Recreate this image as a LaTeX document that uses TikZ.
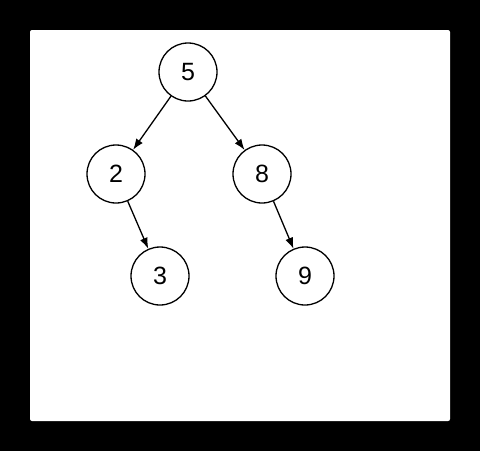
\documentclass[tikz,border=0pt]{standalone}
\usepackage{fontspec}
\setmainfont{Liberation Sans}
\usetikzlibrary{arrows.meta}

\begin{document}
\begin{tikzpicture}[x=.5pt,y=-.5pt,
	vertex/.style={draw,circle,line width=.65pt,minimum size=29pt,inner sep=0pt,font=\fontsize{12.5}{14}\selectfont},
	edge/.style={-{Latex[length=5.5pt,width=4pt]},line width=.65pt}]
			\fill[black] (0,0) rectangle (480,451);
			\fill[white,rounded corners=1pt] (30,30) rectangle (450,421);
			
			\node[vertex] (n5) at (188,72) {5};
			\node[vertex] (n2) at (116,174) {2}; \draw[edge] (n5) -- (n2);
			\node[vertex] (n8) at (262,174) {8}; \draw[edge] (n5) -- (n8);
			
			\node[vertex] (n3) at (160,276) {3}; \draw[edge] (n2) -- (n3);
			\node[vertex] (n9) at (305,276) {9}; \draw[edge] (n8) -- (n9);
			\end{tikzpicture}
\end{document}
